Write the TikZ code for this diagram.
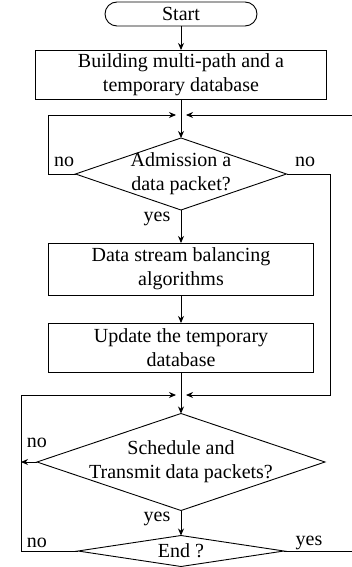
\documentclass[tikz,border=0pt]{standalone}
\usepackage{fontspec}
\setmainfont{Liberation Serif}
\usetikzlibrary{shapes.geometric,shapes.misc,arrows.meta}
\begin{document}
\begin{tikzpicture}[x=1pt,y=-1pt,
  every node/.style={font=\fontsize{20}{24}\selectfont},
  base/.style={draw, line width=0.9pt, inner sep=0pt, outer sep=0pt},
  procbox/.style={base, rectangle, align=center},
  term/.style={base, rounded rectangle},
  decision/.style={base, diamond},
  lbl/.style={inner sep=0pt, outer sep=0pt},
  conn/.style={line width=0.9pt},
  arr/.style={conn, -{Stealth[length=7pt,width=6pt]}},
]
\useasboundingbox (0,0) rectangle (352,567);

\node[term, minimum width=152pt, minimum height=24pt] (start) at (181,14) {Start};
\node[procbox, minimum width=291pt, minimum height=49pt] (build) at (181,74.5) {Building multi-path and a\\temporary database};
\node[decision, minimum width=211pt, minimum height=72pt,
      label={[lbl,align=center]center:{Admission a\\data packet?}}] (adm) at (181,174) {};
\node[procbox, minimum width=265pt, minimum height=52pt] (data) at (181,269) {Data stream balancing\\algorithms};
\node[procbox, minimum width=265pt, minimum height=49pt] (upd) at (181,347.5) {Update the temporary\\database};
\node[decision, minimum width=288pt, minimum height=97pt,
      label={[lbl,align=center]center:{Schedule and\\Transmit data packets?}}] (sched) at (181,462) {};
\node[decision, minimum width=206pt, minimum height=31pt,
      label={[lbl]center:{End ?}}] (endd) at (181,551) {};

\coordinate (m1) at (181,115);
\coordinate (aL) at (48,174);
\coordinate (aLt) at (48,115);
\coordinate (aR) at (330,174);
\coordinate (aRb) at (330,395);
\coordinate (m2) at (181,395);
\coordinate (sL) at (21,462);
\coordinate (eL) at (21,551);
\coordinate (eLt) at (21,395);
\coordinate (eR) at (358,551);
\coordinate (eRt) at (358,115);

\draw[arr] (start) -- (build);
\draw[arr] (build) -- (adm);
\draw[arr, shorten >=5pt] (adm.west) -- (aL) -- (aLt) -- (m1);
\draw[arr, shorten >=5pt] (endd.east) -- (eR) -- (eRt) -- (m1);
\draw[arr] (adm) -- (data);
\draw[arr] (data) -- (upd);
\draw[arr] (upd) -- (sched);
\draw[arr, shorten >=5pt] (adm.east) -- (aR) -- (aRb) -- (m2);
\draw[arr, shorten >=5pt] (endd.west) -- (eL) -- (eLt) -- (m2);
\draw[arr] (sched.west) -- (sL);
\draw[arr] (sched) -- (endd);

\node[lbl] (noA) at (64,162) {no};
\node[lbl] (noB) at (305,162) {no};
\node[lbl] (yesA) at (157,219) {yes};
\node[lbl] (noC) at (37,443) {no};
\node[lbl] (yesB) at (157,519) {yes};
\node[lbl] (noD) at (37,543) {no};
\node[lbl] (yesC) at (309,543) {yes};
\end{tikzpicture}
\end{document}
